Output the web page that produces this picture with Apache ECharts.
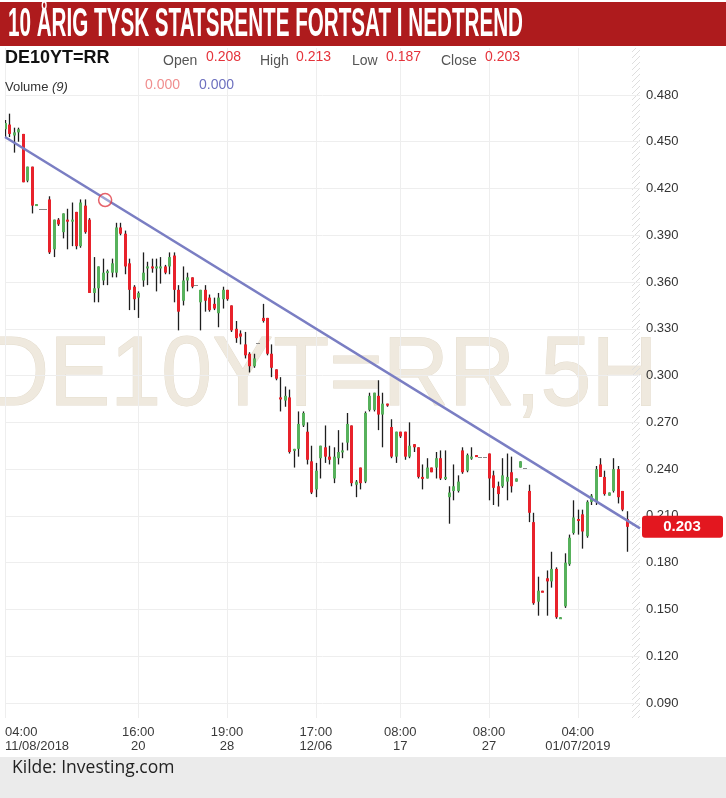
<!DOCTYPE html>
<html><head><meta charset="utf-8">
<script src="https://cdn.jsdelivr.net/npm/echarts@6/dist/echarts.min.js"></script>
<style>html,body{margin:0;padding:0;background:#fff}#c{width:726px;height:798px}</style>
</head><body><div id="c"></div>
<script>
// ---- data ----
const openV = [.458,.461,.454,.456,.455,.425,.434,.409,.407,.407,.413,.381,.400,.392,.400,.399,.405,.383,.409,.400,
.353,.356,.361,.366,.366,.366,.395,.391,.372,.357,.350,.361,.369,.370,.369,.369,.370,.370,.377,.355,
.348,.361,.363,.358,.347,.355,.350,.346,.340,.349,.355,.345,.330,.327,.320,.314,.306,.321,.337,.337,
.314,.304,.286,.284,.286,.252,.253,.268,.264,.245,.227,.247,.254,.248,.234,.247,.251,.257,.268,.230,
.241,.232,.278,.278,.287,.275,.282,.267,.248,.264,.264,.248,.256,.254,.235,.234,.241,.241,.247,.234,
.222,.226,.226,.252,.239,.247,.249,.248,.248,.250,.236,.229,.229,.232,.238,.232,.241,.241,.226,.206,
.155,.162,.170,.168,.176,.144,.152,.179,.199,.208,.211,.197,.219,.219,.243,.235,.223,.226,.240,.226,.208];
const closeV = [.462,.455,.456,.458,.424,.434,.409,.410,.407,.407,.379,.400,.397,.404,.399,.400,.383,.411,.392,.353,
.356,.370,.366,.367,.372,.395,.391,.370,.355,.349,.353,.366,.370,.369,.370,.370,.366,.376,.355,.341,
.361,.363,.357,.358,.355,.348,.342,.343,.350,.355,.349,.329,.324,.325,.313,.306,.311,.321,.335,.314,
.305,.298,.285,.287,.251,.253,.269,.276,.246,.225,.239,.255,.248,.246,.248,.251,.252,.269,.231,.232,
.231,.276,.287,.289,.275,.282,.281,.248,.264,.261,.248,.255,.254,.235,.234,.241,.238,.247,.234,.235,
.225,.229,.232,.238,.249,.248,.248,.248,.248,.234,.228,.224,.236,.235,.229,.234,.245,.241,.212,.154,
.162,.161,.168,.176,.145,.145,.180,.196,.209,.207,.200,.219,.223,.240,.235,.224,.225,.240,.222,.214,.203];
const highV = [.464,.468,.459,.459,.455,.434,.434,.410,.407,.407,.415,.400,.401,.404,.407,.411,.405,.413,.413,.401,
.376,.370,.375,.368,.375,.398,.398,.393,.375,.358,.354,.379,.373,.375,.375,.376,.371,.379,.379,.358,
.370,.366,.363,.358,.355,.358,.352,.350,.353,.357,.355,.345,.335,.329,.328,.315,.314,.321,.346,.337,
.320,.304,.299,.293,.291,.253,.277,.277,.270,.255,.244,.255,.268,.255,.254,.265,.257,.276,.268,.233,
.241,.277,.289,.289,.297,.289,.282,.272,.264,.264,.264,.270,.256,.254,.243,.247,.241,.251,.252,.252,
.229,.243,.236,.254,.250,.254,.249,.248,.248,.250,.239,.232,.247,.250,.248,.234,.245,.241,.230,.212,
.171,.162,.175,.187,.177,.145,.186,.198,.220,.214,.214,.220,.224,.242,.247,.239,.225,.247,.242,.226,.213];
const lowV = [.453,.453,.443,.450,.424,.424,.404,.409,.407,.407,.378,.376,.396,.388,.381,.383,.381,.382,.391,.353,
.347,.347,.358,.358,.363,.363,.390,.365,.342,.342,.337,.357,.358,.366,.354,.359,.365,.365,.347,.329,
.345,.354,.356,.358,.329,.341,.341,.342,.331,.343,.348,.328,.321,.320,.311,.302,.305,.321,.334,.313,
.299,.297,.277,.280,.250,.241,.248,.267,.243,.224,.222,.234,.244,.243,.231,.243,.247,.252,.229,.222,
.227,.231,.277,.277,.265,.254,.280,.247,.244,.260,.246,.247,.251,.234,.227,.234,.238,.234,.233,.233,
.205,.220,.225,.237,.238,.246,.248,.248,.248,.220,.217,.216,.228,.220,.225,.232,.241,.241,.206,.153,
.146,.161,.146,.164,.144,.144,.151,.178,.198,.198,.189,.196,.217,.217,.235,.223,.223,.225,.218,.213,.187];
const slotCount = 144;                       // candle slots incl. empty space at right
const tickIdx  = [0, 30, 50, 70, 89, 109, 129];
const tickTime = ['04:00','16:00','19:00','17:00','08:00','08:00','04:00'];
const tickDate = ['11/08/2018','20','28','12/06','17','27','01/07/2019'];
const yTicks = [0.09,0.12,0.15,0.18,0.21,0.24,0.27,0.30,0.33,0.36,0.39,0.42,0.45,0.48];
const trendLine = [[0, 0.453], [143, 0.202]];
const circlePoint = [[23, 0.4126]];
const lastBar = {open: '0.208', high: '0.213', low: '0.187', close: '0.203', closeNum: 0.203};
const yMin = 0.08037, yMax = 0.51011;

// ---- chart ----
const GL = 5, GR = 86, GT = 48, GB = 80, W = 726, H = 798;
const RED = '#e8222b', GREEN = '#57b15c';
const cats = Array.from({length: slotCount}, (_, i) => String(i));
const candles = openV.map((o, i) => [i, o, closeV[i], lowV[i], highV[i]]);

const chart = echarts.init(document.getElementById('c'));

const pc = document.createElement('canvas'); pc.width = 6; pc.height = 6;
const pg = pc.getContext('2d'); pg.strokeStyle = '#dedede'; pg.lineWidth = 1;
pg.beginPath(); pg.moveTo(0, 6); pg.lineTo(6, 0); pg.stroke();
pg.beginPath(); pg.moveTo(-1, 1); pg.lineTo(1, -1); pg.stroke();
pg.beginPath(); pg.moveTo(5, 7); pg.lineTo(7, 5); pg.stroke();

const titleText = '10 ÅRIG TYSK STATSRENTE FORTSAT I NEDTREND';
const titleFont = 'bold 40px "Liberation Sans Narrow", "Liberation Sans", sans-serif';
const mctx = document.createElement('canvas').getContext('2d');
mctx.font = titleFont;
const titleScale = 515 / mctx.measureText(titleText).width;

function txt(text, x, y, font, fill, extra) {
  return Object.assign({type: 'text', x: x, y: y, z: 50, silent: true,
    style: {text: text, font: font, fill: fill, textAlign: 'left', align: 'left',
            textVerticalAlign: 'middle', verticalAlign: 'middle'}}, extra || {});
}
const F = '"Liberation Sans", Arial, sans-serif';
const baseGraphics = [
  {type: 'text', x: -17, y: 378, z: -10, scaleX: 0.935, silent: true,
   style: {text: 'DE10YT=RR,5H', font: '98px ' + F, fill: '#efe9de', stroke: '#e4dccd', lineWidth: 1,
           textVerticalAlign: 'middle', verticalAlign: 'middle'}},
  {type: 'rect', z: -5, silent: true, shape: {x: W - GR - 8, y: GT, width: 8, height: H - GT - GB},
   style: {fill: {image: pc, repeat: 'repeat'}}},
  {type: 'rect', z: 40, silent: true, shape: {x: 0, y: 2, width: W, height: 44}, style: {fill: '#ae1b1d'}},
  {type: 'text', x: 8, y: 25, z: 50, scaleX: titleScale, silent: true,
   style: {text: titleText, font: titleFont, fill: '#fff', textVerticalAlign: 'middle', verticalAlign: 'middle'}},
  txt('DE10YT=RR', 5, 58, 'bold 18px ' + F, '#111'),
  txt('Open', 163, 61, '14px ' + F, '#555'),
  txt(lastBar.open, 206, 57, '14px ' + F, '#e5333b'),
  txt('High', 260, 61, '14px ' + F, '#555'),
  txt(lastBar.high, 296, 57, '14px ' + F, '#e5333b'),
  txt('Low', 352, 61, '14px ' + F, '#555'),
  txt(lastBar.low, 386, 57, '14px ' + F, '#e5333b'),
  txt('Close', 441, 61, '14px ' + F, '#555'),
  txt(lastBar.close, 485, 57, '14px ' + F, '#e5333b'),
  txt('Volume', 5, 87, '13px ' + F, '#333'),
  txt('(9)', 52, 87, 'italic 13px ' + F, '#333'),
  txt('0.000', 145, 85, '14px ' + F, '#f08e8e'),
  txt('0.000', 199, 85, '14px ' + F, '#6d70bf'),
  {type: 'rect', z: 40, silent: true, shape: {x: 0, y: 757, width: W, height: H - 757}, style: {fill: '#ebebeb'}},
  txt('Kilde: Investing.com', 12, 768, '17.5px "Open Sans", ' + F, '#222')
];

const option = {
  animation: false,
  backgroundColor: '#fff',
  grid: {left: GL, right: GR, top: GT, bottom: GB},
  xAxis: {
    type: 'category', data: cats, boundaryGap: false,
    axisLine: {show: false}, axisTick: {show: false},
    splitLine: {show: true, interval: (i) => tickIdx.includes(i), lineStyle: {color: '#eeeeee', width: 1}},
    axisLabel: {
      interval: (i) => tickIdx.includes(i),
      formatter: (v, i) => { const k = tickIdx.indexOf(i); return k < 0 ? '' : tickTime[k] + '\n' + tickDate[k]; },
      color: '#3a3a3a', fontSize: 13, lineHeight: 14, margin: 7,
      fontFamily: '"Liberation Sans Narrow", "Liberation Sans", sans-serif',
      alignMinLabel: 'left'
    }
  },
  yAxis: {
    type: 'value', position: 'right', min: yMin, max: yMax,
    axisLine: {show: false},
    axisTick: {show: false, customValues: yTicks},
    axisLabel: {customValues: yTicks, formatter: (v) => v.toFixed(3), color: '#333', fontSize: 13, fontFamily: F, margin: 6},
    splitLine: {show: true, lineStyle: {color: '#eeeeee', width: 1}}
  },
  series: [
    {
      type: 'custom', clip: true, z: 3,
      encode: {x: 0, y: [1, 2, 3, 4]},
      data: candles,
      renderItem: function (params, api) {
        const i = api.value(0), o = api.value(1), c = api.value(2), l = api.value(3), h = api.value(4);
        const pO = api.coord([i, o]), pC = api.coord([i, c]), pL = api.coord([i, l]), pH = api.coord([i, h]);
        const x = Math.round(pO[0]);
        if (o === c && h === l) {
          return {type: 'rect', shape: {x: x - 2, y: Math.round(pO[1]), width: 4, height: 1}, style: {fill: '#8a8a8a'}};
        }
        const top = Math.min(pO[1], pC[1]);
        const hh = Math.max(2, Math.abs(pO[1] - pC[1]));
        return {type: 'group', children: [
          {type: 'line', shape: {x1: x + 0.5, y1: pH[1], x2: x + 0.5, y2: pL[1]}, style: {stroke: '#1e1e1e', lineWidth: 1.3}},
          {type: 'rect', shape: {x: x - 1, y: top, width: 3, height: hh}, style: {fill: c >= o ? GREEN : RED}}
        ]};
      }
    },
    {
      type: 'line', data: trendLine, symbol: 'none', z: 4, silent: true,
      lineStyle: {color: '#7a7ec3', width: 2.5}
    },
    {
      type: 'scatter', data: circlePoint, symbol: 'circle', symbolSize: 13, symbolOffset: [-2, 0], z: 5, silent: true,
      itemStyle: {color: 'rgba(255,255,255,0.35)', borderColor: '#e03a43', borderWidth: 1.5}
    }
  ],
  graphic: {elements: baseGraphics}
};
chart.setOption(option);

const yc = chart.convertToPixel({yAxisIndex: 0}, lastBar.closeNum);
const tag = [
  {type: 'rect', z: 45, silent: true, shape: {x: W - GR + 2, y: yc - 11, width: 81, height: 22, r: 3}, style: {fill: '#e3171f'}},
  {type: 'text', x: W - GR + 42, y: yc, z: 50, silent: true,
   style: {text: lastBar.close, font: 'bold 15px ' + F, fill: '#fff', textAlign: 'center', align: 'center',
           textVerticalAlign: 'middle', verticalAlign: 'middle'}}
];
chart.setOption({graphic: {elements: baseGraphics.concat(tag)}});
</script>
</body></html>
